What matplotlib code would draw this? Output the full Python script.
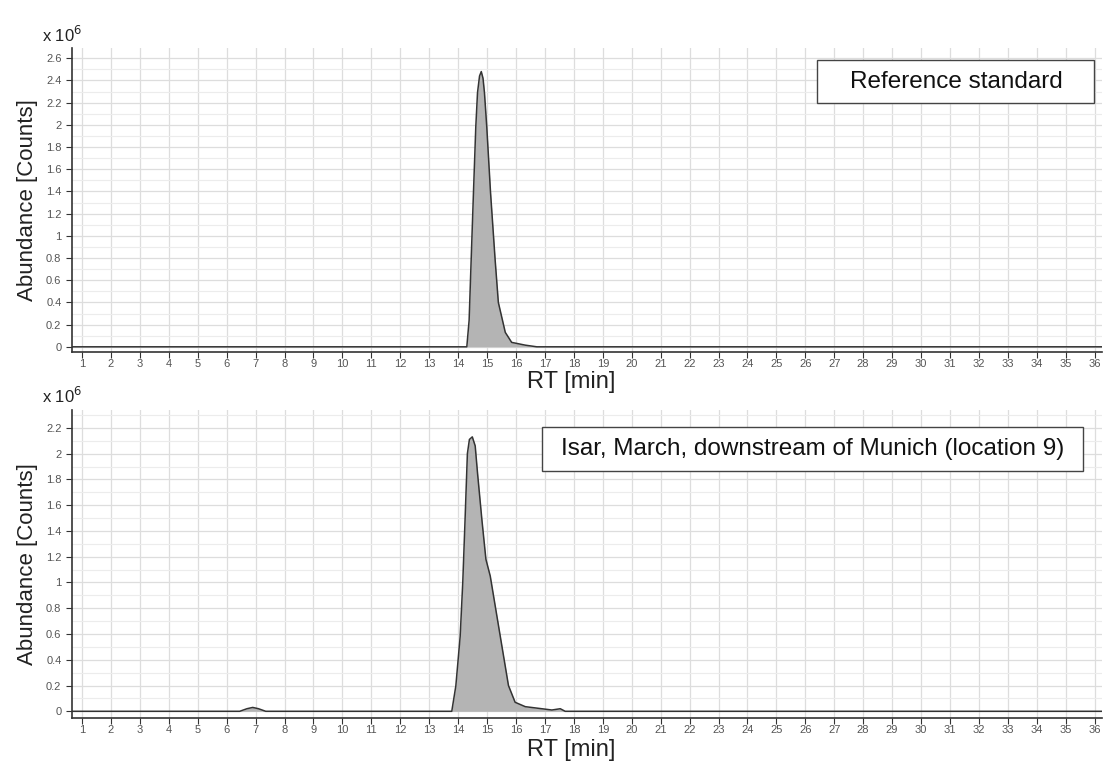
import matplotlib
matplotlib.use("Agg")
import matplotlib.pyplot as plt
from matplotlib.ticker import MultipleLocator, FuncFormatter
from matplotlib.patches import Rectangle

plt.rcParams['font.family'] = ['Liberation Sans', 'DejaVu Sans']

# ---- data ----
rt_ref = [0.6, 14.30, 14.38, 14.45, 14.53, 14.61, 14.67, 14.74, 14.80, 14.86, 14.91, 14.99, 15.12,
          15.28, 15.39, 15.63, 15.85, 16.32, 16.72, 36.3]
ab_ref = [0.0, 0.0, 0.24, 0.78, 1.39, 1.98, 2.29, 2.44, 2.48, 2.42, 2.29, 1.98, 1.39,
          0.78, 0.40, 0.13, 0.04, 0.015, 0.0, 0.0]

rt_isar = [0.6, 6.45, 6.7, 6.9, 7.1, 7.35, 13.78, 13.92, 14.07, 14.16, 14.24, 14.32,
           14.39, 14.49, 14.59, 14.67, 14.82, 14.96, 15.11, 15.28, 15.51, 15.74,
           15.97, 16.32, 16.89, 17.24, 17.53, 17.70, 36.3]
ab_isar = [0.0, 0.0, 0.02, 0.03, 0.02, 0.0, 0.0, 0.196, 0.58, 1.0, 1.49, 2.0,
           2.11, 2.13, 2.06, 1.85, 1.49, 1.18, 1.05, 0.82, 0.51, 0.2,
           0.07, 0.036, 0.02, 0.01, 0.02, 0.0, 0.0]

x_ticks = list(range(1, 37))
labels = ["Reference standard", "Isar, March, downstream of Munich (location 9)"]
y_tops = [2.69, 2.34]
y_tick_max = [2.6, 2.2]

fig = plt.figure(figsize=(11.06, 7.66), dpi=100)
fig.patch.set_facecolor("white")

ax1 = fig.add_axes([0.065, 0.540, 0.931, 0.397])
ax2 = fig.add_axes([0.065, 0.063, 0.931, 0.402])

tick_col = "#555555"
grid_col = "#dddddd"

def fmt(v, pos):
    return ("%g" % round(v, 2))

for ax, rt, ab, ytop, ymax in [(ax1, rt_ref, ab_ref, y_tops[0], y_tick_max[0]),
                               (ax2, rt_isar, ab_isar, y_tops[1], y_tick_max[1])]:
    ax.fill_between(rt, ab, 0, color="#b4b4b4", linewidth=0, zorder=2)
    ax.plot(rt, ab, color="#333333", linewidth=1.1, zorder=3)
    ax.set_xlim(0.65, 36.24)
    ax.set_ylim(-0.05, ytop)
    ax.set_xticks(x_ticks)
    ax.set_yticks([round(0.2 * i, 1) for i in range(int(round(ymax / 0.2)) + 1)])
    ax.yaxis.set_minor_locator(MultipleLocator(0.1))
    ax.yaxis.set_major_formatter(FuncFormatter(fmt))
    ax.grid(which="major", color=grid_col, linewidth=0.9, zorder=0)
    ax.grid(which="minor", axis="y", color="#ececec", linewidth=0.8, zorder=0)
    ax.tick_params(axis="both", which="major", labelsize=8, colors="#333333",
                   labelcolor=tick_col, length=4, width=0.8)
    ax.tick_params(axis="y", which="minor", length=0)
    ax.tick_params(axis="x", pad=1)
    for s in ["top", "right"]:
        ax.spines[s].set_visible(False)
    for s in ["left", "bottom"]:
        ax.spines[s].set_color("#333333")
        ax.spines[s].set_linewidth(1.2)
    ax.set_ylabel("Abundance [Counts]", fontsize=16, color="#222222", labelpad=6)
    ax.text(-0.029, 1.012, r"x 10$^6$", transform=ax.transAxes, fontsize=12,
            color="#222222", ha="left", va="bottom")

ax1.set_xlabel("RT [min]", fontsize=17, color="#222222")
ax2.set_xlabel("RT [min]", fontsize=17, color="#222222")
ax1.xaxis.set_label_coords(0.485, -0.06, transform=ax1.transAxes)
ax2.xaxis.set_label_coords(0.485, -0.07, transform=ax2.transAxes)
ax1.xaxis.label.set_va("top")
ax2.xaxis.label.set_va("top")

boxes = [(ax1, labels[0], 0.724, 0.819, 0.269, 0.142),
         (ax2, labels[1], 0.457, 0.802, 0.525, 0.143)]
for ax, lab, bx, by, bw, bh in boxes:
    ax.add_patch(Rectangle((bx, by), bw, bh, transform=ax.transAxes, facecolor="white",
                           edgecolor="#444444", linewidth=1.0, zorder=5))
    ax.text(bx + bw / 2, by + bh / 2, lab, transform=ax.transAxes, fontsize=17.5,
            ha="center", va="center", color="#111111", zorder=6)

fig.savefig("out.png", dpi=100, facecolor="white")
